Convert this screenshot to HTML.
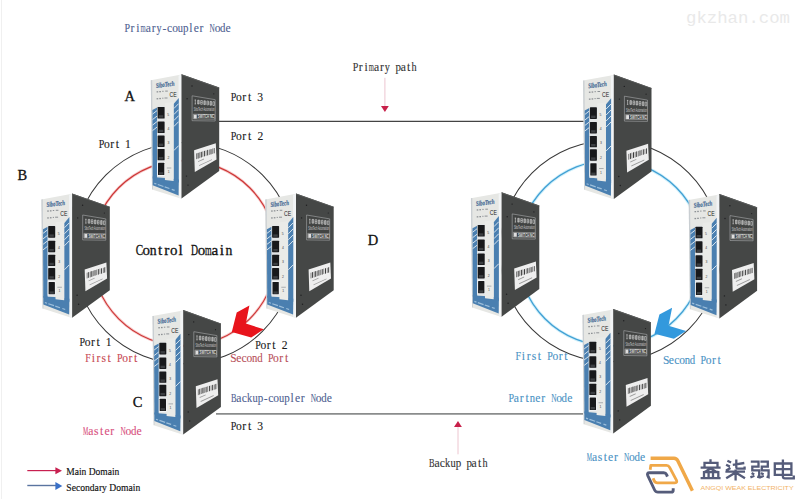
<!DOCTYPE html>
<html><head><meta charset="utf-8">
<style>
html,body{margin:0;padding:0;background:#fff;}
body{width:800px;height:499px;overflow:hidden;}
svg{display:block;}
.m{font-family:"Liberation Mono",monospace;}
.s{font-family:"Liberation Serif",serif;}
</style></head>
<body>
<svg width="800" height="499" viewBox="0 0 800 499">
<defs>
<g id="dev">
  <!-- front face -->
  <polygon points="-0.2,7.6 30.5,2 30.5,126.2 1,116.8" fill="#e6e7e4"/>
  <polygon points="-0.2,7.6 1.2,7.4 1.8,116.6 1,116.8" fill="#c9ced2"/>
  <polygon points="27.6,3 30.5,2 30.5,126.2 27.6,125" fill="#f2f4f5"/>
  <!-- blue stripes -->
  <polygon points="1.4,37.5 6.1,35 6.1,106 1.7,106" fill="#4a7fb0"/>
  <polygon points="22.6,31.5 27.8,25.3 27.8,110 22.6,110" fill="#4a7fb0"/>
  <polygon points="1.7,104 27.8,107 27.6,122.8 1.7,112.6" fill="#4a7fb0"/>
  <g stroke="#e8eff5" stroke-width="0.9">
    <line x1="1.5" y1="41.5" x2="6" y2="38"/>
    <line x1="1.5" y1="47" x2="6" y2="43.5"/>
    <line x1="1.5" y1="52.5" x2="6" y2="49"/>
    <line x1="1.5" y1="58" x2="6" y2="54.5"/>
    <line x1="22.8" y1="36" x2="27.7" y2="31"/>
    <line x1="22.8" y1="42" x2="27.7" y2="37"/>
    <line x1="22.8" y1="48" x2="27.7" y2="43"/>
    <line x1="22.8" y1="54" x2="27.7" y2="49"/>
    <line x1="22.8" y1="78" x2="27.7" y2="73"/>
  </g>
  <!-- port frame + label strip -->
  <rect x="6.1" y="33.3" width="7.8" height="71.5" fill="#e2e5e6"/>
  <polygon points="13.9,30.5 22.6,29.5 22.6,108.5 13.9,107.5" fill="#eaebe8"/>
  <g fill="#18191b">
    <rect x="6.6" y="34.3" width="7" height="11.6" rx="0.6"/>
    <rect x="6.6" y="48.9" width="7" height="11.5" rx="0.6"/>
    <rect x="6.6" y="62.9" width="7" height="11.4" rx="0.6"/>
    <rect x="6.6" y="76.3" width="7" height="11.4" rx="0.6"/>
  </g>
  <rect x="6.2" y="89.4" width="7.8" height="13.9" fill="#f4f6f7"/>
  <rect x="7" y="90.2" width="6.3" height="12.3" fill="#18191b" rx="0.5"/>
  <g fill="#3c3f42">
    <rect x="7.8" y="42.6" width="4.4" height="2.4"/>
    <rect x="7.8" y="57.2" width="4.4" height="2.4"/>
    <rect x="7.8" y="71" width="4.4" height="2.4"/>
    <rect x="7.8" y="84.4" width="4.4" height="2.4"/>
    <rect x="8" y="99.6" width="4.2" height="2.4"/>
  </g>
  <g fill="#444" font-family="Liberation Sans" font-size="3.4">
    <text x="16.2" y="43">5</text><text x="16.4" y="57">4</text><text x="16.6" y="71">3</text><text x="16.6" y="86">2</text><text x="16.8" y="100.5">1</text>
  </g>
  <g fill="#9a9ea2"><rect x="15.8" y="95" width="4.5" height="0.8"/></g>
  <!-- bottom band marks -->
  <g fill="#9dbfdb" transform="rotate(19 3 110)">
    <rect x="3.5" y="110" width="2.2" height="1.2"/><rect x="7.2" y="110" width="6" height="1.2"/><rect x="14.5" y="110" width="5" height="1.2"/><rect x="22" y="110" width="3" height="1.2"/>
  </g>
  <!-- logo -->
  <text x="4.8" y="14.2" font-family="Liberation Serif" font-style="italic" font-weight="bold" font-size="7" fill="#456a94" stroke="#456a94" stroke-width="0.2" textLength="18.6" lengthAdjust="spacingAndGlyphs" transform="rotate(-7 14 12)">SiboTech</text>
  <g fill="#8d9195">
    <rect x="5.6" y="18.6" width="1.6" height="1.3"/><rect x="8.3" y="18.4" width="1.6" height="1.3"/><rect x="11.2" y="18.2" width="1.4" height="1"/><rect x="14.2" y="18" width="2.6" height="1"/>
    <rect x="5.6" y="25.5" width="1.6" height="1.3"/><rect x="8.3" y="25.3" width="1.6" height="1.3"/><rect x="11.2" y="25.1" width="1.2" height="1"/><rect x="13.5" y="24.9" width="3" height="1"/>
  </g>
  <text x="18.6" y="24" font-family="Liberation Sans" font-size="6.6" fill="#222" textLength="7.2" lengthAdjust="spacingAndGlyphs">CE</text>
  <!-- dark side -->
  <polygon points="30.5,1.6 68.2,14.9 68.2,98.4 30.5,126" fill="#454746"/>
  <polygon points="30.5,1.6 68.2,14.9 68.2,15.8 30.5,2.6" fill="#5a5c5b"/>
  <!-- label box -->
  <polygon points="41.1,23.2 64.2,27.1 64.2,48.4 41.1,48.1" fill="#424443" stroke="#b4b6b8" stroke-width="0.55"/>
  <g fill="none" stroke="#e4e4e4" stroke-width="0.55">
    <path d="M43.6,27.4 h1.4 M44.3,27.2 v4.2 M43.6,31.4 h1.4"/>
    <path d="M46.6,27.6 h1.6 v3.8 h-1.6 z M47.4,27.6 v3.8"/>
    <path d="M49.7,27.9 h1.6 v3.8 h-1.6 z M49.7,29.8 h1.6"/>
    <path d="M52.8,28.2 h1.6 v3.8 h-1.6 z M53.6,28.2 v3.8"/>
    <path d="M55.9,28.5 h1.6 v3.8 h-1.6 z M55.9,30.4 h1.6"/>
    <path d="M59,28.8 h1.6 v3.8 h-1.6 z M59.8,28.8 v3.8"/>
    <path d="M61.9,29.1 h1.5 v3.8 h-1.5 z"/>
  </g>
  <text x="42.8" y="38.6" font-family="Liberation Sans" font-size="5" fill="#d0d0d0" textLength="20.8" lengthAdjust="spacingAndGlyphs">SiboTech Automation</text>
  <polygon points="42.3,41.6 63.8,42 63.8,46.6 42.3,46.3" fill="none" stroke="#c4c4c4" stroke-width="0.5"/>
  <rect x="42.8" y="42.1" width="2.9" height="3.9" fill="#dedede"/>
  <text x="46.8" y="45.9" font-family="Liberation Sans" font-weight="bold" font-size="4.6" fill="#dcdcdc" textLength="16.4" lengthAdjust="spacingAndGlyphs">SWITCH NC</text>
  <!-- barcode sticker -->
  <polygon points="43.1,77.7 64.8,70.7 65.5,86.8 43.8,99.4" fill="#eeeeee"/>
  <g fill="#3a3a3a">
    <polygon points="45.2,80.9 45.8,80.7 45.8,86.4 45.2,86.7"/>
    <polygon points="46.6,80.4 47.6,80.1 47.6,85.8 46.6,86.2"/>
    <polygon points="48.4,79.8 48.9,79.7 48.9,85.4 48.4,85.6"/>
    <polygon points="49.7,79.4 50.8,79.1 50.8,84.7 49.7,85.1"/>
    <polygon points="51.6,78.9 52.1,78.7 52.1,84.2 51.6,84.4"/>
    <polygon points="52.9,78.5 53.9,78.2 53.9,83.7 52.9,84.0"/>
    <polygon points="54.8,77.9 55.3,77.8 55.3,83.2 54.8,83.4"/>
    <polygon points="56.2,77.5 57.2,77.2 57.2,82.6 56.2,82.9"/>
    <polygon points="58.1,77.0 58.6,76.8 58.6,82.1 58.1,82.3"/>
    <polygon points="59.5,76.6 60.5,76.3 60.5,81.6 59.5,81.9"/>
    <polygon points="61.4,76.0 61.9,75.9 61.9,81.1 61.4,81.3"/>
    <polygon points="62.7,75.6 63.6,75.3 63.6,80.6 62.7,80.9"/>
  </g>
  <g fill="#9a9a9a">
    <polygon points="47,88.6 53,85.9 53,86.8 47,89.5"/>
    <polygon points="48,92.6 61,86.6 61,87.5 48,93.5"/>
  </g>
  <!-- screws -->
  <g fill="#1e1e20">
    <circle cx="41" cy="13.4" r="0.7"/><circle cx="62.8" cy="21.2" r="0.6"/><circle cx="36.1" cy="26.1" r="0.7"/><circle cx="35.5" cy="103.5" r="0.7"/><circle cx="37" cy="112.5" r="0.7"/>
  </g>
</g>
</defs>

<line x1="1.5" y1="0" x2="1.5" y2="499" stroke="#f0f0f0" stroke-width="1"/>
<!-- watermark top right -->
<text x="686" y="23" font-family="Liberation Mono" font-size="16.5" fill="#e9e9e9" textLength="104" lengthAdjust="spacingAndGlyphs">gkzhan.com</text>

<!-- rings left -->
<circle cx="184.2" cy="253.2" r="110.6" fill="none" stroke="#383838" stroke-width="1.05"/>
<circle cx="184.2" cy="253.3" r="92.67" fill="none" stroke="#f8cccc" stroke-width="2.8"/>
<circle cx="184.2" cy="253.3" r="92.67" fill="none" stroke="#cc3636" stroke-width="1.15"/>
<!-- rings right -->
<circle cx="610.4" cy="251.1" r="110.66" fill="none" stroke="#383838" stroke-width="1.05"/>
<circle cx="610.6" cy="253.2" r="92.8" fill="none" stroke="#d2f1fb" stroke-width="3.2"/>
<circle cx="610.6" cy="253.2" r="92.8" fill="none" stroke="#42a0d4" stroke-width="1.35"/>

<!-- horizontal lines -->
<line x1="219" y1="121.45" x2="584" y2="121.45" stroke="#444" stroke-width="1.2"/>
<line x1="216" y1="413.8" x2="583" y2="413.8" stroke="#8a8c8c" stroke-width="1.8"/>

<!-- devices -->
<use href="#dev" transform="translate(151,72.6)"/>
<use href="#dev" transform="translate(41.6,191.8)"/>
<use href="#dev" transform="translate(265.5,191.8)"/>
<use href="#dev" transform="translate(152.7,308.5)"/>
<use href="#dev" transform="translate(583.3,73)"/>
<use href="#dev" transform="translate(471.1,190.7)"/>
<use href="#dev" transform="translate(688.9,192.4)"/>
<use href="#dev" transform="translate(582.7,307.4)"/>

<!-- chevrons -->
<polygon points="249.4,305.4 236.7,312.6 231.8,332 251.2,337.5 263.8,329.3 245.8,323.5" fill="#e8141c"/>
<polygon points="672.1,307.7 659.4,314.4 654.5,333.8 673.9,338.8 686.1,331.1 668.5,325.7" fill="#3399dd"/>

<!-- path arrows -->
<line x1="384.9" y1="77.8" x2="384.9" y2="107" stroke="#e8b8c4" stroke-width="0.8"/>
<polygon points="381,106 388.8,106 384.9,112" fill="#c8204a"/>
<line x1="458" y1="426" x2="458" y2="454.3" stroke="#e8b8c4" stroke-width="0.8"/>
<polygon points="454,427 461.9,427 458,421" fill="#c8204a"/>

<!-- texts -->
<g font-family="Liberation Serif" font-size="11.6" fill="#4f5f92" stroke="#4f5f92" stroke-width="0.12"><text transform="translate(124.52,32.0) scale(0.864,1)" x="0" y="0">P</text><text x="130.57" y="32.0">r</text><text x="136.25" y="32.0">i</text><text transform="translate(140.60,32.0) scale(0.568,1)" x="0" y="0">m</text><text x="145.80" y="32.0">a</text><text x="151.81" y="32.0">r</text><text transform="translate(156.55,32.0) scale(0.870,1)" x="0" y="0">y</text><text x="162.49" y="32.0">-</text><text x="167.12" y="32.0">c</text><text transform="translate(172.16,32.0) scale(0.994,1)" x="0" y="0">o</text><text transform="translate(177.78,32.0) scale(0.897,1)" x="0" y="0">u</text><text transform="translate(183.05,32.0) scale(0.947,1)" x="0" y="0">p</text><text x="189.36" y="32.0">l</text><text x="193.69" y="32.0">e</text><text x="199.60" y="32.0">r</text><text transform="translate(209.56,32.0) scale(0.628,1)" x="0" y="0">N</text><text transform="translate(214.64,32.0) scale(0.994,1)" x="0" y="0">o</text><text transform="translate(220.00,32.0) scale(0.932,1)" x="0" y="0">d</text><text x="225.55" y="32.0">e</text></g>
<g font-family="Liberation Serif" font-size="11.6" fill="#1a1a1a" stroke="#1a1a1a" stroke-width="0.12"><text transform="translate(230.82,100.6) scale(0.867,1)" x="0" y="0">P</text><text transform="translate(236.00,100.6) scale(0.997,1)" x="0" y="0">o</text><text x="242.23" y="100.6">r</text><text x="247.92" y="100.6">t</text><text x="257.26" y="100.6">3</text></g>
<g font-family="Liberation Serif" font-size="11.6" fill="#1a1a1a" stroke="#1a1a1a" stroke-width="0.12"><text transform="translate(230.82,140.0) scale(0.867,1)" x="0" y="0">P</text><text transform="translate(236.00,140.0) scale(0.997,1)" x="0" y="0">o</text><text x="242.23" y="140.0">r</text><text x="247.92" y="140.0">t</text><text x="257.38" y="140.0">2</text></g>
<g font-family="Liberation Serif" font-size="11.6" fill="#1a1a1a" stroke="#1a1a1a" stroke-width="0.12"><text transform="translate(98.72,148.0) scale(0.867,1)" x="0" y="0">P</text><text transform="translate(103.90,148.0) scale(0.997,1)" x="0" y="0">o</text><text x="110.13" y="148.0">r</text><text x="115.82" y="148.0">t</text><text x="125.05" y="148.0">1</text></g>
<g font-family="Liberation Serif" font-size="11.6" fill="#1a1a1a" stroke="#1a1a1a" stroke-width="0.12"><text transform="translate(79.52,345.8) scale(0.867,1)" x="0" y="0">P</text><text transform="translate(84.70,345.8) scale(0.997,1)" x="0" y="0">o</text><text x="90.93" y="345.8">r</text><text x="96.62" y="345.8">t</text><text x="105.85" y="345.8">1</text></g>
<g font-family="Liberation Serif" font-size="11.6" fill="#c84a55" stroke="#c84a55" stroke-width="0.12"><text transform="translate(85.23,362.0) scale(0.857,1)" x="0" y="0">F</text><text x="91.64" y="362.0">i</text><text x="96.58" y="362.0">r</text><text x="101.60" y="362.0">s</text><text x="107.56" y="362.0">t</text><text transform="translate(117.08,362.0) scale(0.864,1)" x="0" y="0">P</text><text transform="translate(122.24,362.0) scale(0.994,1)" x="0" y="0">o</text><text x="128.44" y="362.0">r</text><text x="134.11" y="362.0">t</text></g>
<g font-family="Liberation Serif" font-size="11.6" fill="#1a1a1a" stroke="#1a1a1a" stroke-width="0.12"><text transform="translate(255.22,348.8) scale(0.867,1)" x="0" y="0">P</text><text transform="translate(260.40,348.8) scale(0.997,1)" x="0" y="0">o</text><text x="266.63" y="348.8">r</text><text x="272.32" y="348.8">t</text><text x="281.78" y="348.8">2</text></g>
<g font-family="Liberation Serif" font-size="11.6" fill="#b8505a" stroke="#b8505a" stroke-width="0.12"><text transform="translate(230.25,362.0) scale(0.986,1)" x="0" y="0">S</text><text x="236.17" y="362.0">e</text><text x="241.46" y="362.0">c</text><text transform="translate(246.50,362.0) scale(0.994,1)" x="0" y="0">o</text><text transform="translate(252.01,362.0) scale(0.912,1)" x="0" y="0">n</text><text transform="translate(257.17,362.0) scale(0.932,1)" x="0" y="0">d</text><text transform="translate(267.89,362.0) scale(0.864,1)" x="0" y="0">P</text><text transform="translate(273.05,362.0) scale(0.994,1)" x="0" y="0">o</text><text x="279.25" y="362.0">r</text><text x="284.92" y="362.0">t</text></g>
<g font-family="Liberation Serif" font-size="11.6" fill="#4f5f92" stroke="#4f5f92" stroke-width="0.12"><text transform="translate(231.07,401.8) scale(0.715,1)" x="0" y="0">B</text><text x="236.37" y="401.8">a</text><text x="241.76" y="401.8">c</text><text transform="translate(247.05,401.8) scale(0.876,1)" x="0" y="0">k</text><text transform="translate(252.42,401.8) scale(0.897,1)" x="0" y="0">u</text><text transform="translate(257.69,401.8) scale(0.947,1)" x="0" y="0">p</text><text x="263.68" y="401.8">-</text><text x="268.31" y="401.8">c</text><text transform="translate(273.35,401.8) scale(0.994,1)" x="0" y="0">o</text><text transform="translate(278.97,401.8) scale(0.897,1)" x="0" y="0">u</text><text transform="translate(284.24,401.8) scale(0.947,1)" x="0" y="0">p</text><text x="290.55" y="401.8">l</text><text x="294.88" y="401.8">e</text><text x="300.79" y="401.8">r</text><text transform="translate(310.75,401.8) scale(0.628,1)" x="0" y="0">N</text><text transform="translate(315.83,401.8) scale(0.994,1)" x="0" y="0">o</text><text transform="translate(321.19,401.8) scale(0.932,1)" x="0" y="0">d</text><text x="326.74" y="401.8">e</text></g>
<g font-family="Liberation Serif" font-size="11.6" fill="#1a1a1a" stroke="#1a1a1a" stroke-width="0.12"><text transform="translate(230.82,430.0) scale(0.867,1)" x="0" y="0">P</text><text transform="translate(236.00,430.0) scale(0.997,1)" x="0" y="0">o</text><text x="242.23" y="430.0">r</text><text x="247.92" y="430.0">t</text><text x="257.26" y="430.0">3</text></g>
<g font-family="Liberation Serif" font-size="11.6" fill="#d8507e" stroke="#d8507e" stroke-width="0.12"><text transform="translate(83.04,435.0) scale(0.510,1)" x="0" y="0">M</text><text x="88.31" y="435.0">a</text><text x="94.06" y="435.0">s</text><text x="100.06" y="435.0">t</text><text x="104.43" y="435.0">e</text><text x="110.37" y="435.0">r</text><text transform="translate(120.38,435.0) scale(0.632,1)" x="0" y="0">N</text><text x="125.49" y="435.0">o</text><text transform="translate(130.88,435.0) scale(0.938,1)" x="0" y="0">d</text><text x="136.47" y="435.0">e</text></g>
<g font-family="Liberation Serif" font-size="11.6" fill="#333333" stroke="#333333" stroke-width="0.12"><text transform="translate(352.72,70.5) scale(0.866,1)" x="0" y="0">P</text><text x="358.78" y="70.5">r</text><text x="364.48" y="70.5">i</text><text transform="translate(368.83,70.5) scale(0.569,1)" x="0" y="0">m</text><text x="374.04" y="70.5">a</text><text x="380.06" y="70.5">r</text><text transform="translate(384.81,70.5) scale(0.872,1)" x="0" y="0">y</text><text transform="translate(395.40,70.5) scale(0.949,1)" x="0" y="0">p</text><text x="400.64" y="70.5">a</text><text x="407.03" y="70.5">t</text><text transform="translate(411.43,70.5) scale(0.884,1)" x="0" y="0">h</text></g>
<g font-family="Liberation Serif" font-size="11.6" fill="#333333" stroke="#333333" stroke-width="0.12"><text transform="translate(429.07,466.6) scale(0.716,1)" x="0" y="0">B</text><text x="434.38" y="466.6">a</text><text x="439.78" y="466.6">c</text><text transform="translate(445.08,466.6) scale(0.877,1)" x="0" y="0">k</text><text transform="translate(450.46,466.6) scale(0.898,1)" x="0" y="0">u</text><text transform="translate(455.74,466.6) scale(0.949,1)" x="0" y="0">p</text><text transform="translate(466.38,466.6) scale(0.949,1)" x="0" y="0">p</text><text x="471.62" y="466.6">a</text><text x="478.01" y="466.6">t</text><text transform="translate(482.41,466.6) scale(0.884,1)" x="0" y="0">h</text></g>
<g font-family="Liberation Serif" font-size="11.6" fill="#4a92c4" stroke="#4a92c4" stroke-width="0.12"><text transform="translate(515.43,359.6) scale(0.857,1)" x="0" y="0">F</text><text x="521.84" y="359.6">i</text><text x="526.78" y="359.6">r</text><text x="531.80" y="359.6">s</text><text x="537.76" y="359.6">t</text><text transform="translate(547.28,359.6) scale(0.864,1)" x="0" y="0">P</text><text transform="translate(552.44,359.6) scale(0.994,1)" x="0" y="0">o</text><text x="558.64" y="359.6">r</text><text x="564.31" y="359.6">t</text></g>
<g font-family="Liberation Serif" font-size="11.6" fill="#4a92c4" stroke="#4a92c4" stroke-width="0.12"><text transform="translate(662.95,364.2) scale(0.986,1)" x="0" y="0">S</text><text x="668.87" y="364.2">e</text><text x="674.16" y="364.2">c</text><text transform="translate(679.20,364.2) scale(0.994,1)" x="0" y="0">o</text><text transform="translate(684.71,364.2) scale(0.912,1)" x="0" y="0">n</text><text transform="translate(689.87,364.2) scale(0.932,1)" x="0" y="0">d</text><text transform="translate(700.59,364.2) scale(0.864,1)" x="0" y="0">P</text><text transform="translate(705.75,364.2) scale(0.994,1)" x="0" y="0">o</text><text x="711.95" y="364.2">r</text><text x="717.62" y="364.2">t</text></g>
<g font-family="Liberation Serif" font-size="11.6" fill="#4a92c4" stroke="#4a92c4" stroke-width="0.12"><text transform="translate(508.42,401.7) scale(0.867,1)" x="0" y="0">P</text><text x="513.80" y="401.7">a</text><text x="519.83" y="401.7">r</text><text x="525.52" y="401.7">t</text><text transform="translate(529.79,401.7) scale(0.915,1)" x="0" y="0">n</text><text x="535.22" y="401.7">e</text><text x="541.15" y="401.7">r</text><text transform="translate(551.14,401.7) scale(0.631,1)" x="0" y="0">N</text><text transform="translate(556.24,401.7) scale(0.997,1)" x="0" y="0">o</text><text transform="translate(561.62,401.7) scale(0.936,1)" x="0" y="0">d</text><text x="567.20" y="401.7">e</text></g>
<g font-family="Liberation Serif" font-size="11.6" fill="#4a92c4" stroke="#4a92c4" stroke-width="0.12"><text transform="translate(586.74,461.1) scale(0.509,1)" x="0" y="0">M</text><text x="592.00" y="461.1">a</text><text x="597.74" y="461.1">s</text><text x="603.72" y="461.1">t</text><text x="608.09" y="461.1">e</text><text x="614.02" y="461.1">r</text><text transform="translate(624.01,461.1) scale(0.631,1)" x="0" y="0">N</text><text transform="translate(629.11,461.1) scale(0.997,1)" x="0" y="0">o</text><text transform="translate(634.49,461.1) scale(0.936,1)" x="0" y="0">d</text><text x="640.07" y="461.1">e</text></g>
<g font-family="Liberation Serif" font-size="15.2" fill="#111111" stroke="#111" stroke-width="0.3"><text transform="translate(135.82,255.0) scale(0.730,1)" x="0" y="0">C</text><text transform="translate(142.59,255.0) scale(0.983,1)" x="0" y="0">o</text><text transform="translate(149.72,255.0) scale(0.902,1)" x="0" y="0">n</text><text x="157.94" y="255.0">t</text><text x="164.34" y="255.0">r</text><text transform="translate(170.11,255.0) scale(0.983,1)" x="0" y="0">o</text><text x="178.61" y="255.0">l</text><text transform="translate(191.04,255.0) scale(0.637,1)" x="0" y="0">D</text><text transform="translate(197.63,255.0) scale(0.983,1)" x="0" y="0">o</text><text transform="translate(204.90,255.0) scale(0.562,1)" x="0" y="0">m</text><text x="211.58" y="255.0">a</text><text x="219.87" y="255.0">i</text><text transform="translate(225.40,255.0) scale(0.902,1)" x="0" y="0">n</text></g>
<g class="s" font-size="14.5" fill="#111" stroke="#111" stroke-width="0.3">
  <text x="124.6" y="100.8">A</text>
  <text x="17.6" y="179.8">B</text>
  <text x="132.8" y="406.7">C</text>
  <text x="367.8" y="244.7">D</text>
</g>

<!-- legend -->
<line x1="27.3" y1="470.6" x2="56" y2="470.6" stroke="#c82050" stroke-width="1.2"/>
<polygon points="55.4,467.3 62,470.8 55.4,474.3" fill="#c82050"/>
<line x1="27.3" y1="485.5" x2="56" y2="485.5" stroke="#5a74a0" stroke-width="1.4"/>
<polygon points="55.4,482 62.3,486 55.4,490" fill="#3a70c8"/>
<g class="s" font-size="10.5" fill="#111" stroke="#111" stroke-width="0.15">
  <text x="66.3" y="475" textLength="53" lengthAdjust="spacingAndGlyphs">Main Domain</text>
  <text x="66.3" y="490.5" textLength="74" lengthAdjust="spacingAndGlyphs">Secondary Domain</text>
</g>

<!-- logo watermark -->
<g fill="none" stroke-linecap="butt" stroke-linejoin="round">
  <path d="M650.6,458.2 L674,458.2 Q676.6,458.2 677.8,460.8 L692.4,490.8" stroke="#f0a848" stroke-width="3.4"/>
  <path d="M650.2,469.8 L650.8,465.3 L666.5,465.3 Q668.6,465.3 669.6,467.3 L676.4,480.2 Q677.6,482.8 675,482.8 L657.5,482.8 Q655,482.8 654,480.4 L653.2,478.2" stroke="#f0a848" stroke-width="2.8"/>
  <path d="M667.4,476.6 L666.6,474.6 Q665.8,472.8 663.8,472.8 L649.5,472.8 Q646.6,472.8 647.8,475.6 L654.6,490 Q655.6,492.1 658,492.1 L671.2,492.1 Q673.2,492.1 673.2,490.2 L673.2,488.2" stroke="#555c7a" stroke-width="2.9"/>
</g>
<g fill="#f2b468" font-family="Liberation Sans" font-size="5.4">
  <text x="700.6" y="489.6" textLength="93" lengthAdjust="spacingAndGlyphs">ANGQI WEAK ELECTRICITY</text>
</g>
<g id="cjk" stroke="#555c7a" stroke-width="2.3" fill="none" stroke-linecap="butt" stroke-linejoin="miter">
  <path d="M710.5,459.3 V463 M704,462.9 H717.5 M704.5,461.8 V467 M717.5,461.8 V467 M700.6,467.6 H720.6 M710.5,468.2 L705,472 M710.5,468.2 L716.5,472 M704,472 H718.3 M704,471 V478 M708.6,472 V478 M713,472 V478 M718.3,471 V478 M700.6,478.2 H720.6"/>
  <path d="M727.4,460.7 L731.1,462.5 M726.1,464.7 L729.9,466.6 M726.1,470.6 L730.5,468 M732.8,464.8 L744.3,463 M736.3,459.6 V467.6 Q736.3,468.6 737.5,468.6 H744.6 V466.5 M725.4,471.7 H745 M735.6,469.6 V480.6 M735.6,472.5 L726.2,478.3 M735.6,472.5 L745,478.3"/>
  <path d="M750.8,461.6 H758.5 V466.6 H752.3 V470.4 H759.2 V477.2 L757.2,476.6 M751.6,473.1 L754.2,474.6 M750.4,477.4 L754.4,475.8 M760.4,461.6 H767.8 V466.6 H761.8 V470.4 H768.6 V477.2 L766.6,476.6 M761,473.1 L763.6,474.6 M759.8,477.4 L763.8,475.8"/>
  <path d="M774.8,463.5 H791.4 V474.8 H774.8 Z M774.8,469.1 H791.4 M782.9,459.6 V476.6 Q782.9,478.4 784.8,478.4 H793.8 V475.6"/>
</g>
</svg>
</body></html>
